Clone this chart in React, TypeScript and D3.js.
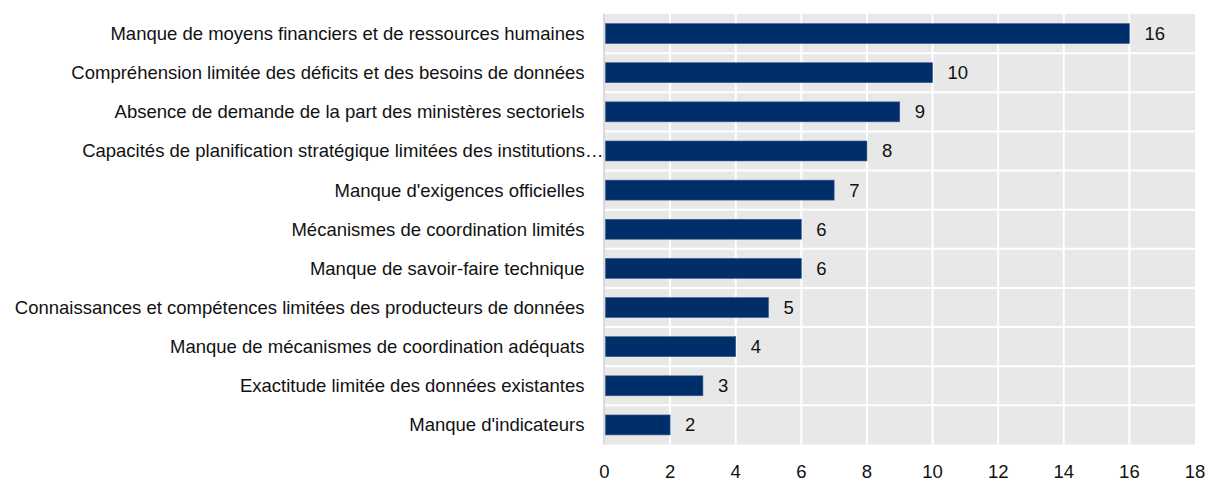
import React, { useEffect, useRef } from 'react';
import * as d3 from 'd3';

// data
const categories = [
  'Manque de moyens financiers et de ressources humaines',
  'Compréhension limitée des déficits et des besoins de données',
  'Absence de demande de la part des ministères sectoriels',
  'Capacités de planification stratégique limitées des institutions…',
  "Manque d'exigences officielles",
  'Mécanismes de coordination limités',
  'Manque de savoir-faire technique',
  'Connaissances et compétences limitées des producteurs de données',
  'Manque de mécanismes de coordination adéquats',
  'Exactitude limitée des données existantes',
  "Manque d'indicateurs",
];
const values = [16, 10, 9, 8, 7, 6, 6, 5, 4, 3, 2];
const ticks = [0, 2, 4, 6, 8, 10, 12, 14, 16, 18];

const W = 1209;
const H = 483;
const FONT = '"Liberation Sans", Arial, sans-serif';

const App = () => {
  const svgRef = useRef<SVGSVGElement>(null);

  useEffect(() => {
    const svg = d3.select(svgRef.current);
    svg.selectAll('*').remove();

    const x = d3.scaleLinear().domain([0, 18]).range([604.5, 1195]);
    const y = d3.scaleBand().domain(categories).range([14, 444.5]).padding(0);
    const barH = y.bandwidth() * 0.51;

    // fond gris
    svg.append('rect')
      .attr('x', x(0))
      .attr('y', y.range()[0])
      .attr('width', x(18) - x(0))
      .attr('height', y.range()[1] - y.range()[0])
      .attr('fill', '#e8e8e8');

    // grille verticale
    svg.selectAll('line.vgrid')
      .data(ticks.filter(t => t > 0 && t < 18))
      .enter()
      .append('line')
      .attr('class', 'vgrid')
      .attr('x1', d => x(d))
      .attr('x2', d => x(d))
      .attr('y1', y.range()[0])
      .attr('y2', y.range()[1])
      .attr('stroke', '#fff')
      .attr('stroke-width', 2);

    // lignes horizontales entre catégories
    svg.selectAll('line.hgrid')
      .data(categories.slice(1))
      .enter()
      .append('line')
      .attr('class', 'hgrid')
      .attr('x1', x(0))
      .attr('x2', x(18))
      .attr('y1', d => y(d)!)
      .attr('y2', d => y(d)!)
      .attr('stroke', '#fff')
      .attr('stroke-width', 2);

    // axe gauche
    svg.append('line')
      .attr('x1', x(0) - 0.5)
      .attr('x2', x(0) - 0.5)
      .attr('y1', y.range()[0])
      .attr('y2', y.range()[1])
      .attr('stroke', '#cfcfcf')
      .attr('stroke-width', 1.5);

    // barres
    svg.selectAll('rect.bar')
      .data(values)
      .enter()
      .append('rect')
      .attr('class', 'bar')
      .attr('x', x(0) + 1)
      .attr('y', (d, i) => y(categories[i])! + (y.bandwidth() - barH) / 2)
      .attr('width', d => x(d) - x(0) - 1)
      .attr('height', barH)
      .attr('fill', '#002e6a')
      .attr('stroke', '#3d5f8f')
      .attr('stroke-width', 0.6);

    // valeurs
    svg.selectAll('text.val')
      .data(values)
      .enter()
      .append('text')
      .attr('class', 'val')
      .attr('x', d => x(d) + 15)
      .attr('y', (d, i) => y(categories[i])! + y.bandwidth() / 2)
      .attr('dy', '0.35em')
      .attr('font-family', FONT)
      .attr('font-size', '18.5px')
      .attr('fill', '#111')
      .text(d => d);

    // libellés
    svg.selectAll('text.cat')
      .data(categories)
      .enter()
      .append('text')
      .attr('class', 'cat')
      .attr('x', d => (d.endsWith('…') ? x(0) - 1 : x(0) - 20))
      .attr('y', d => y(d)! + y.bandwidth() / 2)
      .attr('dy', '0.35em')
      .attr('text-anchor', 'end')
      .attr('font-family', FONT)
      .attr('font-size', '18.5px')
      .attr('fill', '#111')
      .text(d => d);

    // graduations
    svg.selectAll('text.tick')
      .data(ticks)
      .enter()
      .append('text')
      .attr('class', 'tick')
      .attr('x', d => x(d))
      .attr('y', 472)
      .attr('dy', '0.35em')
      .attr('text-anchor', 'middle')
      .attr('font-family', FONT)
      .attr('font-size', '18.5px')
      .attr('fill', '#111')
      .text(d => d);
  }, []);

  return (
    <svg
      ref={svgRef}
      width={W}
      height={H}
      style={{ position: 'absolute', left: 0, top: 0, background: '#fff' }}
    ></svg>
  );
};

export default App;
